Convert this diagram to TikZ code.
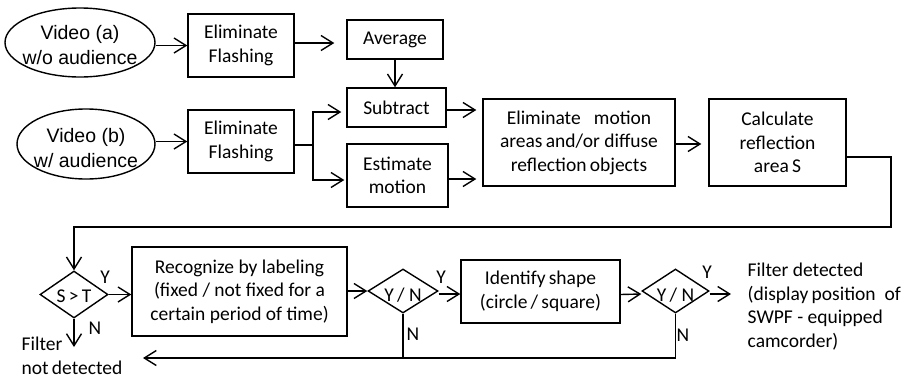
\documentclass[tikz,border=0pt]{standalone}
\usepackage{fontspec}
\setmainfont{Carlito}
\newfontfamily\arialfont{Liberation Sans}
\usetikzlibrary{arrows.meta,shapes.geometric}
\begin{document}
\begin{tikzpicture}[x=1pt,y=-1pt,
  line width=1.4pt,
  >={Straight Barb[length=12pt,width=15pt]},
  every node/.style={font=\fontsize{19.5}{23.5}\selectfont, inner sep=0pt},
  proc/.style={draw, rectangle, align=center},
  src/.style={draw, ellipse},
  srctext/.style={align=center, font=\arialfont\fontsize{19.5}{25}\selectfont},
  dec/.style={draw, diamond, inner sep=0pt},
  dectext/.style={yshift=-4pt},
  note/.style={align=left, anchor=west},
  tag/.style={anchor=center}
]
\useasboundingbox (0,0) rectangle (905,378);

% sources
\node[src, minimum width=150, minimum height=69,
  label={[srctext, yshift=-3pt]center:Video (a)\\w/o audience}] (va) at (80,42.5) {};
\node[src, minimum width=138, minimum height=70,
  label={[srctext, yshift=-4pt]center:Video (b)\\w/ audience}] (vb) at (86,144) {};

% upper processing chain
\node[proc, minimum width=106, minimum height=63] (ef1) at (241,45.5) {Eliminate\\Flashing};
\node[proc, minimum width=106, minimum height=63] (ef2) at (241,141.5) {Eliminate\\Flashing};
\node[proc, minimum width=96, minimum height=39] (avg) at (395,39.5) {Average};
\node[proc, minimum width=99, minimum height=39] (sub) at (396.5,107.5) {Subtract};
\node[proc, minimum width=101, minimum height=63] (est) at (397.5,175.5) {Estimate\\motion};
\node[proc, minimum width=192, minimum height=87] (elm) at (579,142.5)
  {Eliminate\ \ \ motion\\areas\,and/or diffuse\\reflection\,objects};
\node[proc, minimum width=137, minimum height=87] (cal) at (777.5,142.5)
  {Calculate\\reflection\\area\,S};

% lower decision chain
\node[dec, minimum width=68, minimum height=47,
  label={[dectext, yshift=2pt]center:S\,>\,T}] (d1) at (74,294.5) {};
\node[proc, minimum width=215, minimum height=89] (rec) at (239.5,291.5)
  {Recognize by labeling\\(fixed / not fixed for a\\certain period of time)};
\node[dec, minimum width=70, minimum height=44,
  label={[dectext]center:Y\,/\ N}] (d2) at (403,291) {};
\node[proc, minimum width=159, minimum height=63] (idn) at (540.5,291.5)
  {Identify\,shape\\(circle\,/\,square)};
\node[dec, minimum width=67, minimum height=44,
  label={[dectext]center:Y\,/\ N}] (d3) at (675.5,291) {};

% outcome texts
\node[note] (fnd) at (21,356) {Filter\\not\,detected};
\node[note] (fdt) at (747,306.5) {Filter detected\\(display\,position\ \ of\\SWPF - equipped\\camcorder)};

% branch labels
\node[tag] (y1) at (105,277) {Y};
\node[tag] (n1) at (95,328) {N};
\node[tag] (y2) at (441,277) {Y};
\node[tag] (n2) at (413,334) {N};
\node[tag] (y3) at (707,272) {Y};
\node[tag] (n3) at (683,335) {N};

% free ends and routing points
\coordinate (ndEnd) at (74,347);
\coordinate (fdEnd) at (731,291);
\coordinate (back) at (143,358);
\coordinate (turn) at (891,227);
\coordinate (split) at (313,141.5);

% connectors, upper part
\draw[->] (va.east |- ef1.west) -- (ef1.west);
\draw[->] (vb.east |- ef2.west) -- (ef2.west);
\draw[->, shorten >=12pt] ([yshift=2.5pt]ef1.east) -- ([yshift=2.5pt]ef1.east -| avg.west);
\draw[->] (avg.south) -- (avg.south |- sub.north);
\draw ([yshift=-3.5pt]ef2.east) -- ([yshift=-3.5pt]split);
\draw[->, shorten >=5pt] ([yshift=-3.5pt]split) |- ([yshift=-4.5pt]sub.west);
\draw[->, shorten >=2pt] ([yshift=-3.5pt]split) |- ([yshift=-4.5pt]est.west);
\draw[->, shorten >=6pt] ([yshift=-2.5pt]sub.east) -- ([yshift=-2.5pt]sub.east -| elm.west);
\draw[->, shorten >=6pt] ([yshift=-3.5pt]est.east) -- ([yshift=-3.5pt]est.east -| elm.west);
\draw[->, shorten >=7pt] ([yshift=-1.5pt]elm.east) -- ([yshift=-1.5pt]cal.west);
\draw[->] ([yshift=-14.5pt]cal.east) -| (turn) -| (d1.north);

% connectors, lower part
\draw[->] (d1.east) -- (d1.east -| rec.west);
\draw[->] (d1.south) -- (ndEnd);
\draw[->] (rec.east |- d2.west) -- (d2.west);
\draw[->] ([yshift=-3pt]d2.east) -- ([yshift=-3pt]d2.east -| idn.west);
\draw[->] ([yshift=-3pt]idn.east) -- ([yshift=-3pt]d3.west);
\draw[->] ([yshift=-3pt]d3.east) -- ([yshift=-3pt]fdEnd);
\draw (d2.south) -- (d2.south |- back);
\draw[->] (d3.south) |- (back);
\end{tikzpicture}
\end{document}
